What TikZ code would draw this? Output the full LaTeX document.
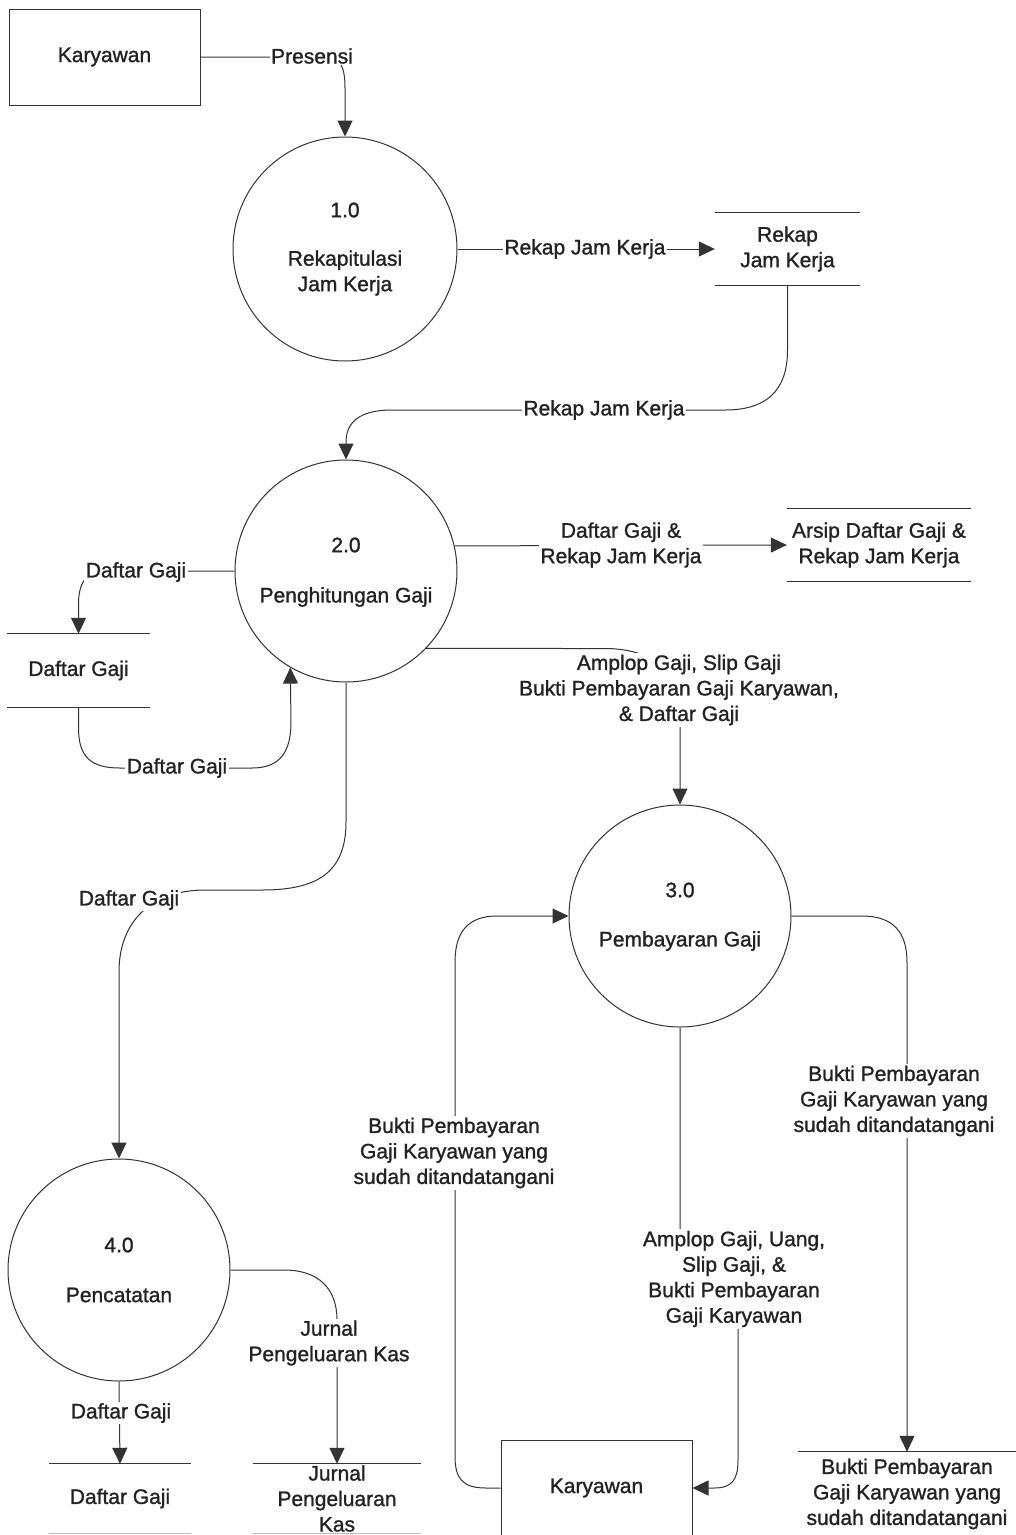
\documentclass[tikz,border=0pt]{standalone}
\usepackage{fontspec}
\setmainfont{Liberation Sans}
\newfontfamily\dfdfont{Liberation Sans}[FakeBold=1.2]
\usetikzlibrary{arrows.meta}
\definecolor{ink}{HTML}{222222}
\definecolor{wire}{HTML}{333333}
\definecolor{faint}{HTML}{BDBDBD}
\begin{document}
\begin{tikzpicture}[x=1pt,y=-1pt,
  every node/.style={font=\dfdfont\fontsize{21pt}{25.5pt}\selectfont, text=ink},
  txt/.style={align=center, inner sep=0pt},
  lbl/.style={align=center, inner sep=1.5pt, fill=white},
  proc/.style={circle, draw=wire, line width=1pt, minimum size=222pt, inner sep=0pt},
  ent/.style={rectangle, draw=wire, line width=1pt, minimum width=191pt, minimum height=96pt},
  store/.style={align=center, inner sep=0pt},
  flow/.style={draw=wire, line width=1pt},
  arr/.style={-{Triangle[length=16pt,width=15pt]}},
  rim/.style={draw=wire, line width=1pt},
  rimfaint/.style={draw=faint, line width=1pt},
]
\useasboundingbox (0,0) rectangle (1016,1535);
\fill[white] (0,0) rectangle (1016,1535);
\clip (0,0) rectangle (1016,1535);

% external entities
\node[ent] (kar1) at (104.5,57) {Karyawan};
\node[ent] (kar2) at (596.5,1488) {Karyawan};

% processes
\node[proc, minimum size=224pt] (p1) at (345,249) {};
\node[txt] (p1id) at (345,210) {1.0};
\node[txt] (p1nm) at (345,273) {Rekapitulasi\\Jam Kerja};

\node[proc] (p2) at (346,571) {};
\node[txt] (p2id) at (346,545) {2.0};
\node[txt] (p2nm) at (346,597) {Penghitungan Gaji};

\node[proc] (p3) at (680,916) {};
\node[txt] (p3id) at (680,890) {3.0};
\node[txt] (p3nm) at (680,941) {Pembayaran Gaji};

\node[proc] (p4) at (119,1270) {};
\node[txt] (p4id) at (119,1245) {4.0};
\node[txt] (p4nm) at (119,1295) {Pencatatan};

% data stores
\node[store, minimum width=145pt, minimum height=72pt] (ds1) at (787.5,249) {Rekap\\Jam Kerja};
\node[store, minimum width=143pt, minimum height=73pt] (ds2) at (78.5,670.5) {Daftar Gaji};
\node[store, minimum width=184pt, minimum height=72pt] (ds3) at (879,545) {Arsip Daftar Gaji \&\\Rekap Jam Kerja};
\node[store, minimum width=142pt, minimum height=69pt] (ds4) at (120,1498.5) {Daftar Gaji};
\node[store, minimum width=168pt, minimum height=69pt] (ds5) at (337,1498.5) {Jurnal\\Pengeluaran\\Kas};
\node[store, minimum width=218pt, minimum height=84pt] (ds6) at (907,1494) {Bukti Pembayaran\\Gaji Karyawan yang\\sudah ditandatangani};

\foreach \s in {ds1,ds2,ds3}{
  \draw[rim] (\s.north west) -- (\s.north east) (\s.south west) -- (\s.south east);
}
\foreach \s in {ds4,ds5}{
  \draw[rim] (\s.north west) -- (\s.north east);
  \draw[rimfaint] (\s.south west) -- (\s.south east);
}
\draw[rim] (ds6.north west) -- (ds6.north east);

% data flows
\draw[flow,arr] (kar1.east) -- (326,57) .. controls (341,57) and (345,68) .. (345,88) -- (p1.north);
\draw[flow,arr] (p1.east) -- (ds1.west);
\draw[flow,arr] (ds1.south) -- (787.5,350) .. controls (787.5,392) and (765,410) .. (725,410)
  -- (392,410) .. controls (360,410) and (346,422) .. (346,442) -- (p2.north);
\draw[flow,arr] (p2.west) -- (102,571) .. controls (86,571) and (78.5,584) .. (78.5,604) -- (ds2.north);
\draw[flow,arr] (ds2.south) -- (78.5,728) .. controls (78.5,758) and (92,768) .. (120,768)
  -- (252,768) .. controls (280,768) and (291,752) .. (291,722) -- (p2.240);
\draw[flow,arr] (p2.13.5) -- (ds3.west);
\draw[flow,arr] (p2.-44) -- (605,648.5) .. controls (640,648.5) and (680,662) .. (680,712) -- (p3.north);
\draw[flow,arr] (p2.south) -- (346,822) .. controls (346,872) and (318,890) .. (262,890)
  -- (205,890) .. controls (155,890) and (119,918) .. (119,972) -- (p4.north);
\draw[flow,arr] (kar2.west) -- (486,1488) .. controls (462,1488) and (455,1478) .. (455,1456)
  -- (455,962) .. controls (455,932) and (468,916) .. (497,916) -- (p3.west);
\draw[flow,arr] (p3.south) -- (680,1235) -- (738,1325) -- (738,1460)
  .. controls (738,1480) and (732,1488) .. (714,1488) -- (kar2.east);
\draw[flow,arr] (p3.east) -- (862,916) .. controls (893,916) and (907,932) .. (907,962) -- (ds6.north);
\draw[flow,arr] (p4.south) -- (ds4.north);
\draw[flow,arr] (p4.east) -- (284,1270) .. controls (318,1270) and (337,1288) .. (337,1320) -- (ds5.north);

% flow labels
\node[lbl] (fPres) at (312,56) {Presensi};
\node[lbl] (fRek1) at (585,249) {Rekap Jam Kerja};
\node[lbl] (fRek2) at (604,410) {Rekap Jam Kerja};
\node[lbl] (fDG1) at (136,572) {Daftar Gaji};
\node[lbl] (fDG2) at (177,768) {Daftar Gaji};
\node[lbl] (fArs) at (621,545) {Daftar Gaji \&\\Rekap Jam Kerja};
\node[lbl] (fAmp1) at (679,690) {Amplop Gaji, Slip Gaji\\Bukti Pembayaran Gaji Karyawan,\\\& Daftar Gaji};
\node[lbl] (fDG3) at (129,900) {Daftar Gaji};
\node[lbl] (fBuk1) at (454,1153) {Bukti Pembayaran\\Gaji Karyawan yang\\sudah ditandatangani};
\node[lbl] (fAmp2) at (734,1279) {Amplop Gaji, Uang,\\Slip Gaji, \&\\Bukti Pembayaran\\Gaji Karyawan};
\node[lbl] (fBuk2) at (894,1101) {Bukti Pembayaran\\Gaji Karyawan yang\\sudah ditandatangani};
\node[lbl] (fDG4) at (121,1413) {Daftar Gaji};
\node[lbl] (fJur) at (329,1343) {Jurnal\\Pengeluaran Kas};
\end{tikzpicture}
\end{document}
